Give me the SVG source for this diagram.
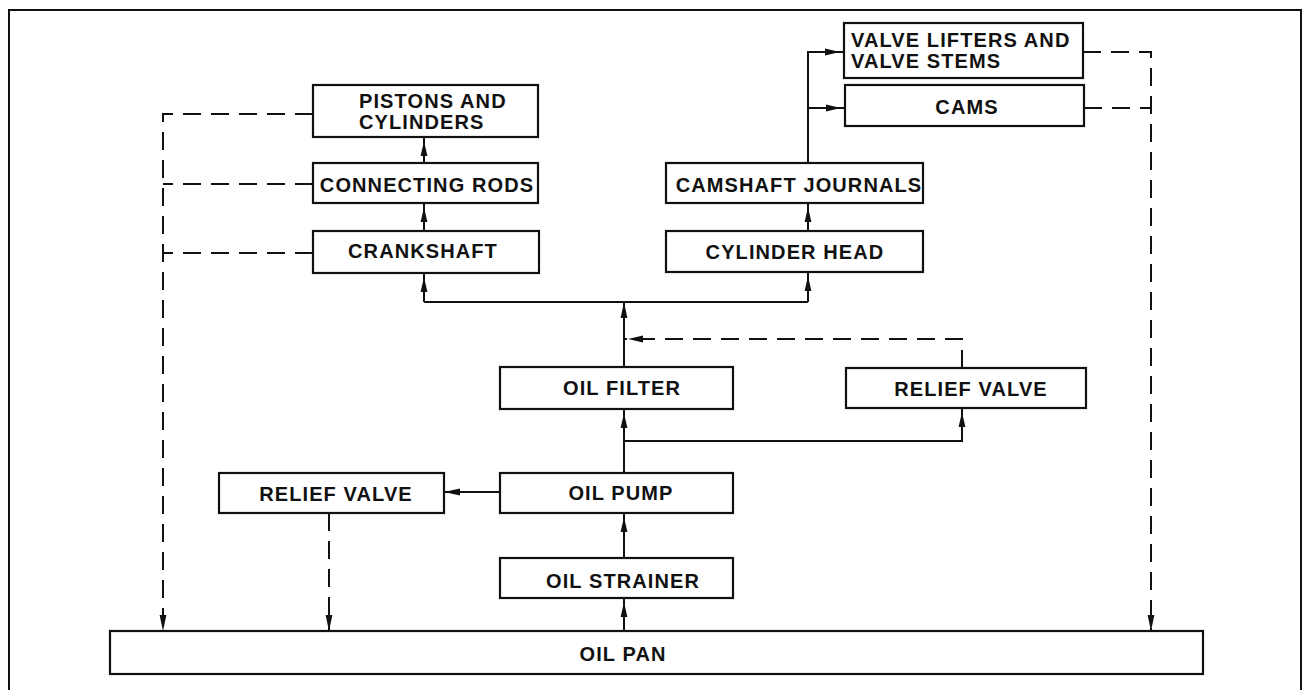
<svg xmlns="http://www.w3.org/2000/svg" width="1303" height="690" viewBox="0 0 1303 690">
<style>
.box{fill:#fff;stroke:#111;stroke-width:2.2}
.t{font-family:"Liberation Sans",Arial,sans-serif;font-weight:bold;font-size:20px;letter-spacing:1.1px;fill:#111}
.c{text-anchor:middle}
.s{fill:none;stroke:#111;stroke-width:2}
.d{fill:none;stroke:#111;stroke-width:2;stroke-dasharray:18 10}
</style>
<defs>
<marker id="a" markerUnits="userSpaceOnUse" markerWidth="24" markerHeight="10" refX="19" refY="5" orient="auto">
<path d="M0,1.6 L15,5 L0,8.4 z" fill="#111"/>
</marker>
<marker id="a0" markerUnits="userSpaceOnUse" markerWidth="24" markerHeight="10" refX="16" refY="5" orient="auto">
<path d="M0,1.6 L16,5 L0,8.4 z" fill="#111"/>
</marker>
</defs>
<rect x="0" y="0" width="1303" height="690" fill="#fff"/>
<rect x="9" y="10" width="1292" height="700" fill="none" stroke="#111" stroke-width="2"/>

<g id="connectors">
<path class="s" d="M624,631 L624,598" marker-end="url(#a)"/>
<path class="s" d="M624,558 L624,513" marker-end="url(#a)"/>
<path class="s" d="M624,473 L624,409" marker-end="url(#a)"/>
<path class="s" d="M500,492 L444,492" marker-end="url(#a0)"/>
<path class="s" d="M624,441 L962,441 L962,408" marker-end="url(#a)"/>
<path class="s" d="M624,367 L624,302" marker-end="url(#a0)"/>
<path class="s" d="M424,302 L808,302"/>
<path class="s" d="M424,302 L424,273" marker-end="url(#a)"/>
<path class="s" d="M808,302 L808,272" marker-end="url(#a)"/>
<path class="s" d="M424,231 L424,203" marker-end="url(#a)"/>
<path class="s" d="M424,163 L424,137" marker-end="url(#a)"/>
<path class="s" d="M808,231 L808,203" marker-end="url(#a)"/>
<path class="s" d="M808,163 L808,52 L844,52" marker-end="url(#a)"/>
<path class="s" d="M808,108 L845,108" marker-end="url(#a)"/>
<path class="d" d="M962,368 L962,339 L624,339" marker-end="url(#a)"/>
<path class="d" d="M313,114 L163,114 L163,631" marker-end="url(#a0)"/>
<path class="d" d="M313,184 L163,184"/>
<path class="d" d="M313,253 L163,253"/>
<path class="d" d="M329,513 L329,631" marker-end="url(#a0)"/>
<path class="d" d="M1083,52 L1151,52 L1151,631" marker-end="url(#a0)"/>
<path class="d" d="M1084,108 L1151,108"/>
</g>

<g id="pistons"><rect class="box" x="313" y="85" width="225" height="52"/>
<text class="t" x="359" y="108">PISTONS AND</text><text class="t" x="359" y="129">CYLINDERS</text></g>
<g id="rods"><rect class="box" x="313" y="163" width="225" height="40"/>
<text class="t c" x="427" y="192">CONNECTING RODS</text></g>
<g id="crankshaft"><rect class="box" x="313" y="231" width="226" height="42"/>
<text class="t c" x="423" y="258">CRANKSHAFT</text></g>
<g id="valvelifters"><rect class="box" x="844" y="23" width="239" height="55"/>
<text class="t" x="851" y="47">VALVE LIFTERS AND</text><text class="t" x="851" y="68">VALVE STEMS</text></g>
<g id="cams"><rect class="box" x="845" y="85" width="239" height="41"/>
<text class="t c" x="967" y="114">CAMS</text></g>
<g id="journals"><rect class="box" x="666" y="163" width="257" height="40"/>
<text class="t c" x="799" y="192">CAMSHAFT JOURNALS</text></g>
<g id="head"><rect class="box" x="666" y="231" width="257" height="41"/>
<text class="t c" x="795" y="259">CYLINDER HEAD</text></g>
<g id="filter"><rect class="box" x="500" y="367" width="233" height="42"/>
<text class="t c" x="622" y="395">OIL FILTER</text></g>
<g id="relief2"><rect class="box" x="846" y="368" width="240" height="40"/>
<text class="t c" x="971" y="396">RELIEF VALVE</text></g>
<g id="relief1"><rect class="box" x="219" y="473" width="225" height="40"/>
<text class="t c" x="336" y="501">RELIEF VALVE</text></g>
<g id="pump"><rect class="box" x="500" y="473" width="233" height="40"/>
<text class="t c" x="621" y="500">OIL PUMP</text></g>
<g id="strainer"><rect class="box" x="500" y="558" width="233" height="40"/>
<text class="t c" x="623" y="588">OIL STRAINER</text></g>
<g id="pan"><rect class="box" x="110" y="631" width="1093" height="43"/>
<text class="t c" x="623" y="661">OIL PAN</text></g>
</svg>
